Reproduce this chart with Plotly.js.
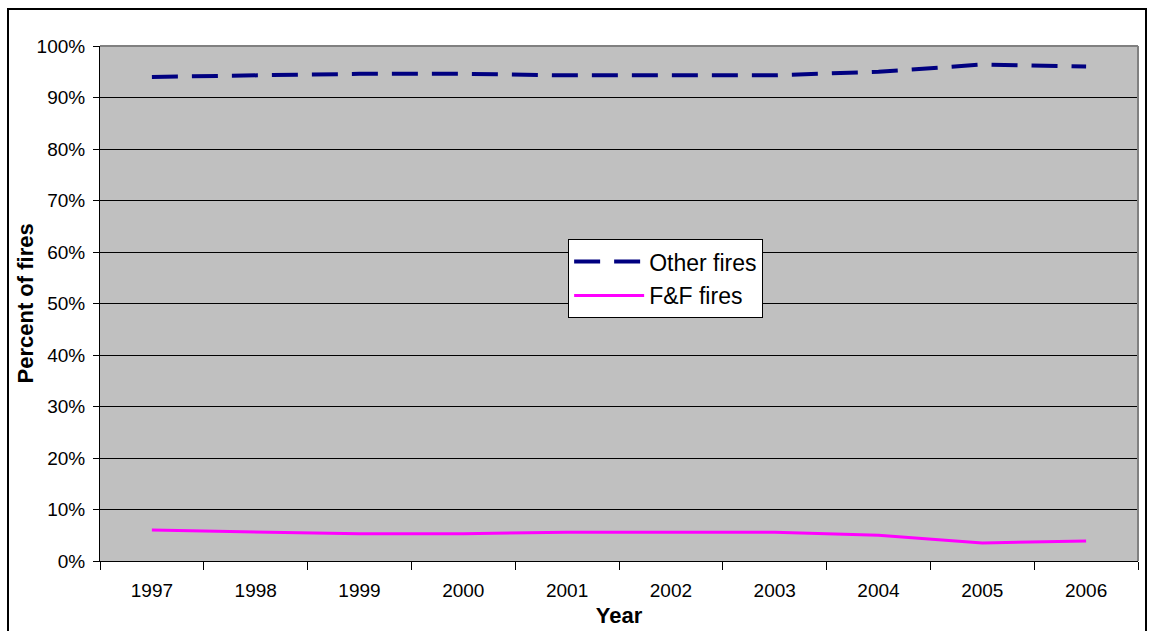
<!DOCTYPE html>
<html>
<head>
<meta charset="utf-8">
<script src="https://cdn.plot.ly/plotly-3.0.1.min.js"></script>
<style>
html,body{margin:0;padding:0;background:#fff;overflow:hidden;}
#frame{position:absolute;left:7px;top:8px;width:1140px;height:650px;border:2px solid #000;box-sizing:border-box;pointer-events:none;z-index:10;}
#chart{position:absolute;left:0;top:0;width:1155px;height:631px;}
</style>
</head>
<body>
<div id="chart"></div>
<div id="frame"></div>
<script>
const years = ['1997','1998','1999','2000','2001','2002','2003','2004','2005','2006'];
const otherFires = [0.940, 0.943, 0.946, 0.946, 0.943, 0.943, 0.943, 0.950, 0.964, 0.960];
const ffFires = [0.060, 0.057, 0.053, 0.053, 0.056, 0.056, 0.056, 0.050, 0.035, 0.039];
const yTicks = [0,0.1,0.2,0.3,0.4,0.5,0.6,0.7,0.8,0.9,1.0];
const yTickText = ['0%','10%','20%','30%','40%','50%','60%','70%','80%','90%','100%'];

const font = 'Arial, "Liberation Sans", sans-serif';

const data = [
  {x: years, y: otherFires, name: 'Other fires', type: 'scatter', mode: 'lines',
   legendgroup: 'a',
   line: {color: '#000080', width: 4, dash: '26px,14px'}},
  {x: years, y: ffFires, name: 'F&F fires', type: 'scatter', mode: 'lines',
   legendgroup: 'b',
   line: {color: '#ff00ff', width: 3}}
];

const layout = {
  width: 1155, height: 631,
  margin: {l: 100, r: 17, t: 46, b: 70},
  paper_bgcolor: 'rgba(0,0,0,0)',
  plot_bgcolor: '#c0c0c0',
  font: {family: font, size: 19, color: '#000'},
  showlegend: true,
  legend: {
    x: 0.451, y: 0.625, xanchor: 'left', yanchor: 'top',
    bgcolor: '#fff', bordercolor: '#000', borderwidth: 1,
    font: {family: font, size: 23, color: '#000'},
    itemwidth: 70, traceorder: 'grouped', tracegroupgap: 1
  },
  xaxis: {
    type: 'category',
    range: [-0.5, 9.5],
    showgrid: false, zeroline: false,
    showline: true, linecolor: '#000', linewidth: 1,
    ticks: 'outside', ticklen: 8, tickcolor: '#000', tickson: 'boundaries',
    tickfont: {family: font, size: 19},
    ticklabelstandoff: 12,
    title: {text: 'Year', font: {family: font, size: 22, weight: 'bold'}, standoff: 7},
    fixedrange: true
  },
  yaxis: {
    range: [0, 1],
    tickvals: yTicks, ticktext: yTickText,
    showgrid: true, gridcolor: '#000', gridwidth: 1,
    zeroline: false,
    showline: true, linecolor: '#000', linewidth: 1,
    ticks: 'outside', ticklen: 6, tickcolor: '#000',
    tickfont: {family: font, size: 19},
    ticklabelstandoff: 4,
    fixedrange: true
  },
  annotations: [
    {text: '<b>Percent of fires</b>', xref: 'paper', yref: 'paper', x: 0, y: 0.5,
     xanchor: 'center', yanchor: 'middle', xshift: -75, textangle: -90, showarrow: false,
     font: {family: font, size: 22, color: '#000'}}
  ],
  shapes: [
    {type: 'line', xref: 'paper', yref: 'paper', x0: 0, x1: 1, y0: 1, y1: 1,
     line: {color: '#808080', width: 2}},
    {type: 'line', xref: 'paper', yref: 'paper', x0: 1, x1: 1, y0: 0, y1: 1,
     line: {color: '#808080', width: 2}}
  ]
};

Plotly.newPlot('chart', data, layout, {displayModeBar: false, staticPlot: true});
</script>
</body>
</html>
